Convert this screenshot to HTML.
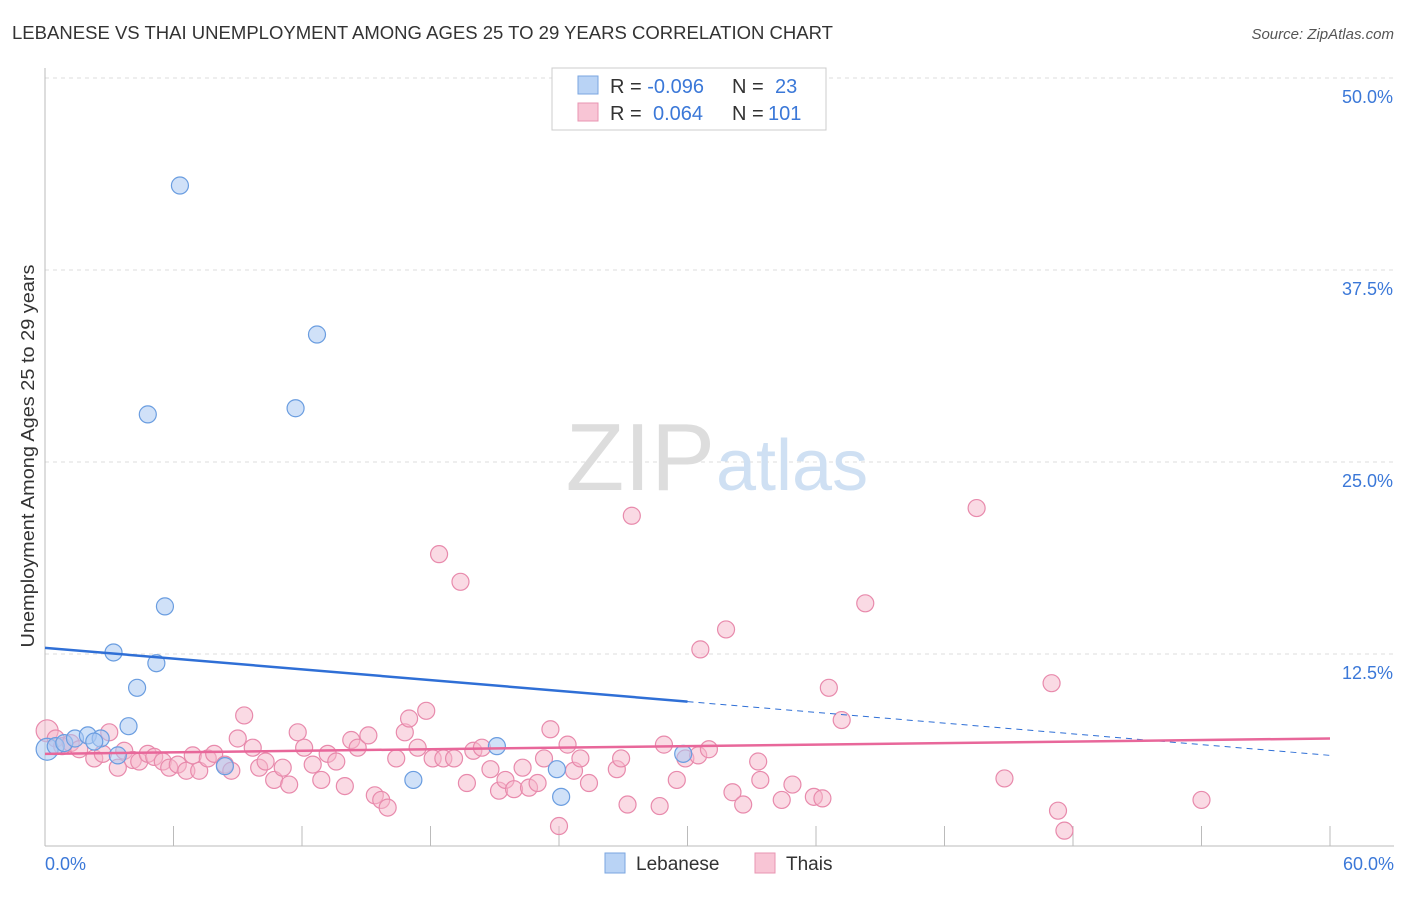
<!DOCTYPE html>
<html><head><meta charset="utf-8"><style>
body{margin:0;background:#fff;font-family:"Liberation Sans",sans-serif}
svg text{font-family:"Liberation Sans",sans-serif}
</style></head><body>
<svg width="1406" height="892" xmlns="http://www.w3.org/2000/svg">
<text x="12" y="39" font-size="18" fill="#333" textLength="821" lengthAdjust="spacingAndGlyphs">LEBANESE VS THAI UNEMPLOYMENT AMONG AGES 25 TO 29 YEARS CORRELATION CHART</text>
<text x="1394" y="39" font-size="15" fill="#555" font-style="italic" text-anchor="end">Source: ZipAtlas.com</text>
<g id="grid"></g>
<text x="715" y="490" font-size="96" fill="#ddd" font-family="Liberation Serif" text-anchor="end">ZIP</text>
<text x="716" y="490" font-size="72" fill="#cfe0f3">atlas</text>
<g id="axes"></g>
<g id="pts"></g>
<g id="lines"></g>
<text x="34" y="456" font-size="18" fill="#333" transform="rotate(-90 34 456)" text-anchor="middle" textLength="383" lengthAdjust="spacingAndGlyphs">Unemployment Among Ages 25 to 29 years</text>
<text x="45" y="870" font-size="18" fill="#3b78d8">0.0%</text>
<text x="1394" y="870" font-size="18" fill="#3b78d8" text-anchor="end">60.0%</text>
<g>
<rect x="552" y="68" width="274" height="62" fill="#fff" stroke="#ccc"/>
<rect x="578" y="76" width="20" height="18" fill="#b9d3f5" stroke="#7aa6e0"/>
<rect x="578" y="103" width="20" height="18" fill="#f8c5d5" stroke="#e895b2"/>
<text x="610" y="93" font-size="20" fill="#333">R = <tspan fill="#3b78d8">-0.096</tspan><tspan x="732">N = </tspan><tspan x="775" fill="#3b78d8">23</tspan></text>
<text x="610" y="120" font-size="20" fill="#333">R = <tspan x="653" fill="#3b78d8">0.064</tspan><tspan x="732">N = </tspan><tspan x="768" fill="#3b78d8">101</tspan></text>
</g>
<g>
<rect x="605" y="853" width="20" height="20" fill="#b9d3f5" stroke="#7aa6e0"/>
<text x="636" y="870" font-size="19" fill="#333">Lebanese</text>
<rect x="755" y="853" width="20" height="20" fill="#f8c5d5" stroke="#e895b2"/>
<text x="786" y="870" font-size="19" fill="#333">Thais</text>
</g>
</svg>
<script>
const ns="http://www.w3.org/2000/svg";
const yTicks=[12.5,25,37.5,50];
const yTickLabels=["12.5%","25.0%","37.5%","50.0%"];
const xTicks=[0,6,12,18,24,30,36,42,48,54,60];
const lebX=[0.1,0.5,0.9,1.4,2.0,2.6,2.3,3.4,3.9,4.3,3.2,5.2,5.6,4.8,6.3,11.7,12.7,8.4,17.2,21.1,23.9,24.1,29.8];
const lebY=[6.3,6.5,6.7,7.0,7.2,7.0,6.8,5.9,7.8,10.3,12.6,11.9,15.6,28.1,43.0,28.5,33.3,5.2,4.3,6.5,5.0,3.2,6.0];
const thaiX=[0.1,0.5,0.8,1.2,1.6,2.3,2.7,3.0,3.4,3.7,4.1,4.4,4.8,5.1,5.5,5.8,6.2,6.6,6.9,7.2,7.6,7.9,8.4,8.7,9.0,9.3,9.7,10.0,10.3,10.7,11.1,11.4,11.8,12.1,12.5,12.9,13.2,13.6,14.0,14.3,14.6,15.1,15.4,15.7,16.0,16.4,16.8,17.0,17.4,17.8,18.1,18.4,18.6,19.1,19.4,19.7,20.0,20.4,20.8,21.2,21.5,21.9,22.3,22.6,23.0,23.3,23.6,24.0,24.4,24.7,25.0,25.4,26.7,26.9,27.2,27.4,28.7,28.9,29.5,29.9,30.5,30.6,31.0,31.8,32.1,32.6,33.3,33.4,34.4,34.9,35.9,36.3,36.6,37.2,38.3,43.5,44.8,47.0,47.3,47.6,54.0];
const thaiY=[7.5,7.0,6.5,6.7,6.3,5.7,6.0,7.4,5.1,6.2,5.6,5.5,6.0,5.8,5.5,5.1,5.3,4.9,5.9,4.9,5.7,6.0,5.3,4.9,7.0,8.5,6.4,5.1,5.5,4.3,5.1,4.0,7.4,6.4,5.3,4.3,6.0,5.5,3.9,6.9,6.4,7.2,3.3,3.0,2.5,5.7,7.4,8.3,6.4,8.8,5.7,19.0,5.7,5.7,17.2,4.1,6.2,6.4,5.0,3.6,4.3,3.7,5.1,3.8,4.1,5.7,7.6,1.3,6.6,4.9,5.7,4.1,5.0,5.7,2.7,21.5,2.6,6.6,4.3,5.7,5.9,12.8,6.3,14.1,3.5,2.7,5.5,4.3,3.0,4.0,3.2,3.1,10.3,8.2,15.8,22.0,4.4,10.6,2.3,1.0,3.0];
const X=v=>45+v/60*1285, Y=v=>846-v/50*768;
function mk(t,a,p){const e=document.createElementNS(ns,t);for(const k in a)e.setAttribute(k,a[k]);p.appendChild(e);return e;}
const grid=document.getElementById('grid'),axes=document.getElementById('axes'),pts=document.getElementById('pts'),lines=document.getElementById('lines');
yTicks.forEach((t,i)=>{
 const l=mk('line',{x1:45,x2:1394,y1:Y(t),y2:Y(t),stroke:'#ddd','stroke-dasharray':'4 4'},grid);
 
 
 const tx=mk('text',{x:1393,y:Y(t)+25,'font-size':18,fill:'#3b78d8','text-anchor':'end'},grid);
 tx.textContent=yTickLabels[i];
 
 
});
mk('line',{x1:45,x2:45,y1:68,y2:846,stroke:'#bbb'},axes);
mk('line',{x1:45,x2:1394,y1:846,y2:846,stroke:'#bbb'},axes);
xTicks.forEach(t=>{
 const l=mk('line',{x1:X(t),x2:X(t),y1:826,y2:846,stroke:'#bbb'},axes);
 
 
});
thaiX.forEach((x,i)=>{
 const c=mk('circle',{cx:X(x),cy:Y(thaiY[i]),r:i==0?11:8.5,fill:'#f5b5ca','fill-opacity':0.5,stroke:'#e88aac','stroke-width':1.2},pts);
 
 
});
lebX.forEach((x,i)=>{
 const c=mk('circle',{cx:X(x),cy:Y(lebY[i]),r:i==0?11:8.5,fill:'#a9c9f2','fill-opacity':0.55,stroke:'#6a9de0','stroke-width':1.2},pts);
 
 
});
const bl=mk('line',{x1:X(0),y1:Y(12.9),x2:X(30),y2:Y(9.4),stroke:'#2f6fd6','stroke-width':2.5},lines);


const bd=mk('line',{x1:X(30),y1:Y(9.4),x2:X(60),y2:Y(5.9),stroke:'#2f6fd6','stroke-width':1,'stroke-dasharray':'6 5'},lines);


const pl=mk('line',{x1:X(0),y1:Y(6.0),x2:X(60),y2:Y(7.0),stroke:'#e8679a','stroke-width':2.5},lines);


</script>
</body></html>
